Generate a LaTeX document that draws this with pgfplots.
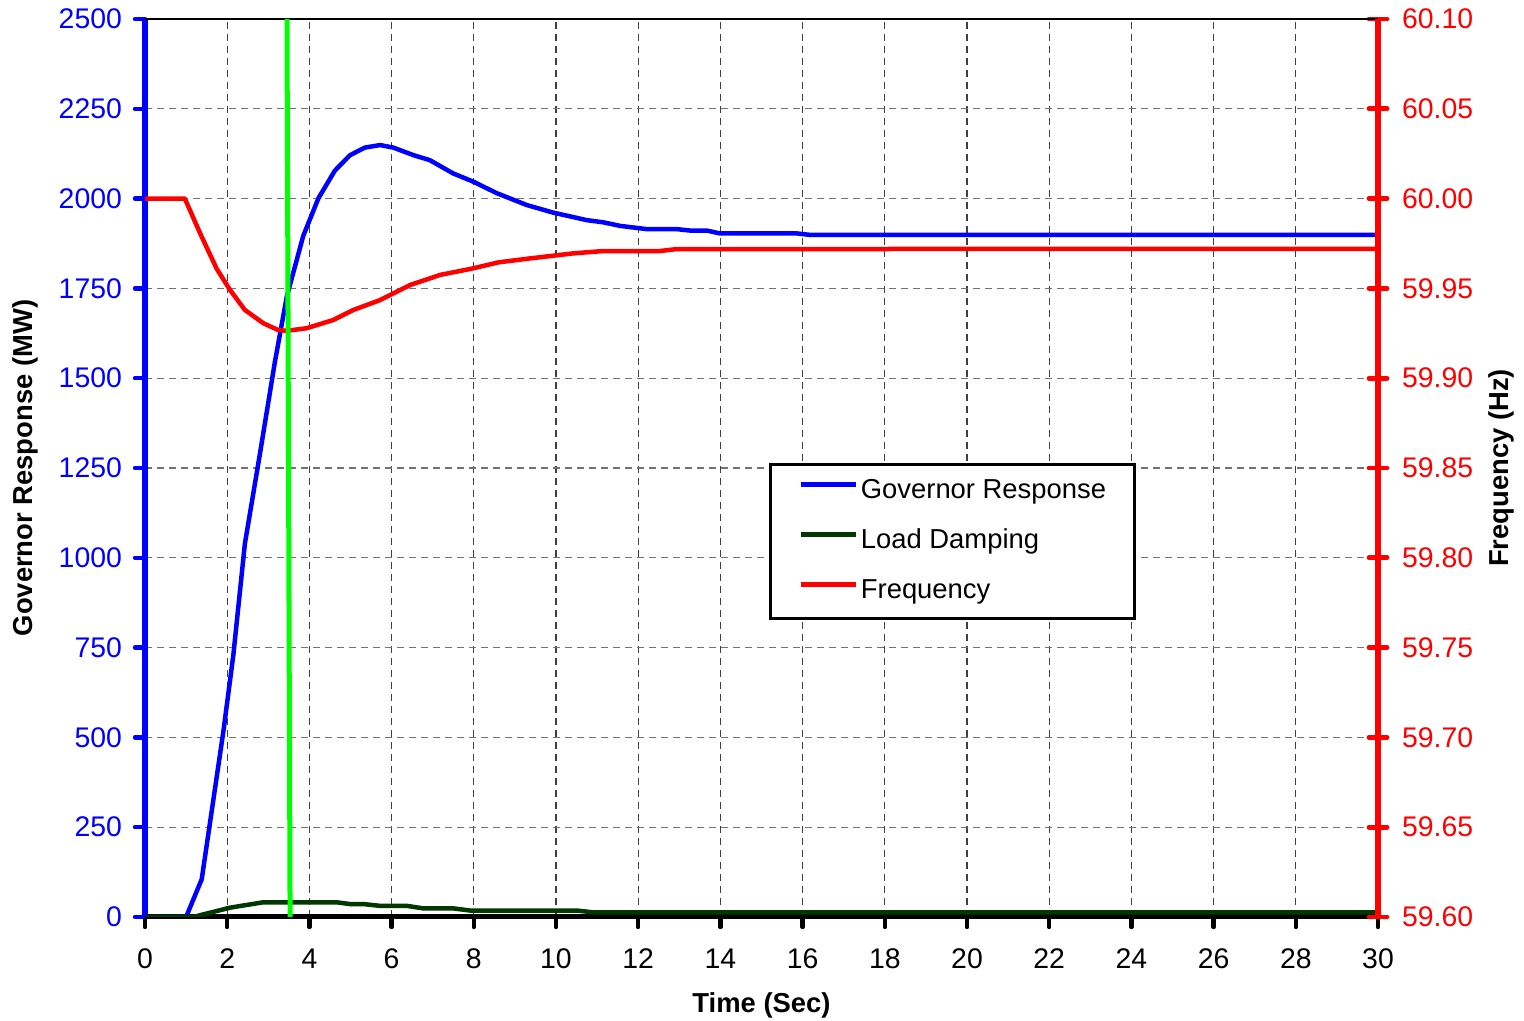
\documentclass[border=0pt]{standalone}
\usepackage{fontspec}
\setmainfont{Liberation Sans}
\usepackage{pgfplots}
\pgfplotsset{compat=1.18}

\definecolor{govblue}{RGB}{0,0,255}
\definecolor{dampgreen}{RGB}{0,56,0}
\definecolor{freqred}{RGB}{255,0,0}
\definecolor{markgreen}{RGB}{0,255,0}
\newcommand{\fs}{\fontsize{13.7}{16}\selectfont}
\newcommand{\tfs}{\fontsize{14.2}{16}\selectfont}

\pgfplotstableread{
t   mw
0     0
1.00  0
1.38  105
1.91  519
2.15  730
2.43  1039
2.80  1292
3.16  1545
3.45  1727
3.85  1896
4.22  2001
4.62  2078
4.99  2121
5.35  2142
5.72  2149
6.04  2142
6.53  2121
6.93  2107
7.50  2070
7.99  2047
8.56  2015
9.29  1982
9.93  1961
10.75 1940
11.15 1934
11.56 1924
12.21 1915
12.94 1915
13.26 1911
13.67 1911
13.99 1903
15.86 1903
16.18 1899
30    1899
}\governor

\pgfplotstableread{
t   mw
0     0
1.17  0
2.07  26
2.88  41
4.66  41
4.99  36
5.31  36
5.72  31
6.37  31
6.77  24
7.50  24
7.91  18
10.50 18
10.90 13
30    13
}\damping

\pgfplotstableread{
t   hz
0     60.0000
0.97  60.0000
1.34  59.9807
1.74  59.9611
2.07  59.9491
2.43  59.9380
2.88  59.9306
3.24  59.9268
3.45  59.9264
3.93  59.9278
4.58  59.9324
5.07  59.9380
5.72  59.9435
6.45  59.9519
7.18  59.9575
7.95  59.9610
8.60  59.9645
9.37  59.9667
10.42 59.9695
11.15 59.9708
12.53 59.9708
12.94 59.9719
30    59.9720
}\frequency

\pgfplotsset{
  twin/.style={
    scale only axis, width=616.5pt, height=449pt,
    at={(0pt,0pt)}, anchor=south west,
    xmin=0, xmax=30,
    tick label style={font=\tfs},
    /pgf/number format/assume math mode=true,
    /pgf/number format/1000 sep={},
    scaled ticks=false,
  },
  curve/.style={line width=2.25pt, line join=round},
}

\begin{document}
\begin{tikzpicture}
\useasboundingbox (-72.5pt,-52pt) rectangle (689.5pt,458.5pt);

% Left axis: governor response and load damping (MW)
\begin{axis}[twin,
  ymin=0, ymax=2500,
  axis x line*=bottom, axis y line*=left,
  xtick={0,2,...,30}, ytick={0,250,...,2500},
  xmajorgrids, ymajorgrids,
  x grid style={black!75, line width=0.6pt, dash pattern=on 3.5pt off 2.5pt},
  y grid style={black!55, line width=0.6pt, dash pattern=on 3.5pt off 2.5pt},
  x axis line style={-, black, line width=2.5pt},
  y axis line style={-, govblue, line width=2.75pt},
  xtick style={black, line width=2.2pt, line cap=round},
  ytick style={govblue, line width=2.2pt, line cap=round},
  tick align=outside, major tick length=5pt,
  yticklabel style={govblue, xshift=-3pt},
  xticklabel style={yshift=-7.5pt},
  xlabel={Time (Sec)},
  ylabel={Governor Response (MW)},
  every axis x label/.style={at={(axis description cs:0.5,-0.098)}, anchor=center, font=\bfseries\fs},
  every axis y label/.style={at={(axis description cs:-0.0973,0.5)}, anchor=center, rotate=90, font=\bfseries\fs},
]
\addplot[curve, govblue] table[x=t, y=mw] {\governor};
\addplot[curve, dampgreen] table[x=t, y=mw] {\damping};
\end{axis}

% Right axis: system frequency (Hz)
\begin{axis}[twin,
  ymin=59.6, ymax=60.1,
  axis x line*=top, axis y line*=right,
  xtick=\empty,
  x axis line style={-, black, line width=0.7pt},
  y axis line style={-, freqred, line width=3pt},
  ytick={59.60,59.65,59.70,59.75,59.80,59.85,59.90,59.95,60.00,60.05,60.10},
  yticklabel style={freqred, xshift=4pt, /pgf/number format/.cd, fixed, fixed zerofill, precision=2},
  ytick style={freqred, line width=2.4pt, line cap=round},
  tick align=center, major tick length=9pt,
  ylabel={Frequency (Hz)},
  every axis y label/.style={at={(axis description cs:1.1,0.5)}, anchor=center, rotate=90, font=\bfseries\fs},
  legend cell align=left,
  legend image code/.code={\draw[#1] (0pt,0.36em) -- (27.5pt,0.36em);},
  legend style={at={(0.506,0.5056)}, anchor=north west, draw=black, line width=1.5pt,
    fill=white, font=\fs, inner xsep=14pt, inner ysep=7pt, row sep=12pt,
    nodes={inner sep=0pt, text height=10pt, text depth=3pt},
    /tikz/every odd column/.style={column sep=1.5pt}},
]
\addlegendimage{curve, govblue}
\addlegendentry{Governor Response}
\addlegendimage{curve, dampgreen}
\addlegendentry{Load Damping}
\addplot[curve, freqred] table[x=t, y=hz] {\frequency};
\addlegendentry{Frequency}
\addplot[markgreen, line width=2.5pt, forget plot] coordinates {(3.455,60.1) (3.53,59.6)};
\end{axis}
\end{tikzpicture}
\end{document}
